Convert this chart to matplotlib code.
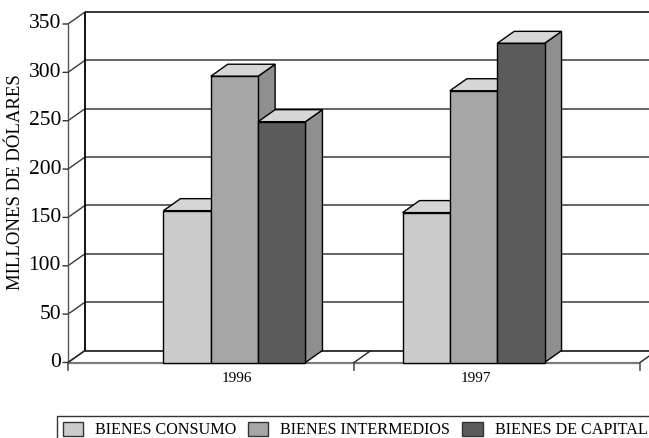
import matplotlib
matplotlib.use("Agg")
import matplotlib.pyplot as plt
from matplotlib.patches import Polygon, Rectangle, Patch

plt.rcParams['font.family'] = ['Liberation Serif', 'DejaVu Serif']

years = ['1996', '1997']
series = ['BIENES CONSUMO', 'BIENES INTERMEDIOS', 'BIENES DE CAPITAL']
consumo = [157, 155]
intermedios = [296, 281]
capital = [249, 330]
yticks = [0, 50, 100, 150, 200, 250, 300, 350]

front_colors = ['#cccccc', '#a6a6a6', '#5b5b5b']
top_color = '#d6d6d6'
side_color = '#8f8f8f'

W, H = 649, 438
fig = plt.figure(figsize=(W / 100, H / 100), dpi=100)
ax = fig.add_axes([68 / W, (H - 362.5) / H, 572 / W, 338.5 / H])
ax.set_xlim(0, 2)
ax.set_ylim(0, 350)
ax.axis('off')

# depth of the box (17 px right, 12 px up) expressed in data units
inv = ax.transData.inverted()
(ax0, ay0), (ax1, ay1) = inv.transform([(0, 0), (17, 12)])
ddx, ddy = ax1 - ax0, ay1 - ay0

line_kw = dict(clip_on=False, solid_capstyle='butt')

# back wall gridlines and left wall diagonals
for v in yticks:
    col = 'black' if v in (0, 350) else '#3a3a3a'
    ax.plot([ddx, 2 + ddx], [v + ddy, v + ddy], color=col, lw=1.1, zorder=1, **line_kw)
    ax.plot([0, ddx], [v, v + ddy], color='#3a3a3a', lw=1.0, zorder=1, **line_kw)
    # tick mark and label on the front left edge
    ax.annotate('', (0, v), xytext=(-5, 0), textcoords='offset pixels',
                arrowprops=dict(arrowstyle='-', color='#333333', lw=1.0,
                                shrinkA=0, shrinkB=0), annotation_clip=False)
    ax.annotate(str(v), (0, v), xytext=(-7, 0), textcoords='offset pixels',
                ha='right', va='center', fontsize=15.5, annotation_clip=False)

# back left edge and front left edge
ax.plot([ddx, ddx], [ddy, 350 + ddy], color='black', lw=1.3, zorder=1, **line_kw)
ax.plot([0, 0], [0, 350], color='#555555', lw=1.0, zorder=1, **line_kw)

# floor: front edge, category ticks and depth diagonals
ax.plot([0, 2], [0, 0], color='#7a7a7a', lw=1.6, zorder=1, **line_kw)
for xc in [0, 1, 2]:
    ax.plot([xc, xc + ddx], [0, ddy], color='#222222', lw=1.0, zorder=1, **line_kw)
    ax.annotate('', (xc, 0), xytext=(0, -8), textcoords='offset pixels',
                arrowprops=dict(arrowstyle='-', color='#333333', lw=1.0,
                                shrinkA=0, shrinkB=0), annotation_clip=False)

# 3D columns
centers = [0.582, 1.418]
bw = 0.1655
values = [consumo, intermedios, capital]
z = 3
for g, xc in enumerate(centers):
    for i, vals in enumerate(values):
        v = vals[g]
        x = xc - 1.5 * bw + i * bw
        side = Polygon([(x + bw, 0), (x + bw + ddx, ddy), (x + bw + ddx, v + ddy), (x + bw, v)],
                       closed=True, facecolor=side_color, edgecolor='black', lw=1.0,
                       zorder=z, clip_on=False)
        top = Polygon([(x, v), (x + bw, v), (x + bw + ddx, v + ddy), (x + ddx, v + ddy)],
                      closed=True, facecolor=top_color, edgecolor='black', lw=1.0,
                      zorder=z + 1, clip_on=False)
        front = Rectangle((x, 0), bw, v, facecolor=front_colors[i], edgecolor='black',
                          lw=1.0, zorder=z + 2, clip_on=False)
        ax.add_patch(side)
        ax.add_patch(top)
        ax.add_patch(front)
        z += 3
    ax.annotate(years[g], (xc + 0.009, 0), xytext=(0, -10), textcoords='offset pixels',
                ha='center', va='top', fontsize=11, annotation_clip=False)

fig.text(16 / W, (H - 182) / H, 'MILLONES DE DÓLARES', rotation=90,
         ha='center', va='center', fontsize=13.5)

handles = [Patch(facecolor=c, edgecolor='#333333', lw=1.0) for c in front_colors]
leg = fig.legend(handles, series, loc='upper left', bbox_to_anchor=(57 / W, 22 / H),
                 ncol=3, fontsize=11.6, frameon=True, fancybox=False, borderaxespad=0,
                 handlelength=1.25, handleheight=0.95, handletextpad=0.75,
                 columnspacing=0.75, borderpad=0.35)
leg.get_frame().set_edgecolor('black')
leg.get_frame().set_linewidth(1.0)

fig.savefig('out.png', dpi=100)
